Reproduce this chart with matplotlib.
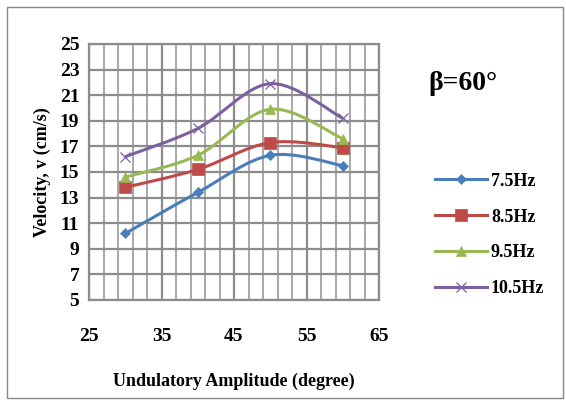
import numpy as np
import matplotlib
matplotlib.use("Agg")
import matplotlib.pyplot as plt
from matplotlib.path import Path
from matplotlib.patches import PathPatch, Rectangle
from matplotlib.lines import Line2D

amplitude = [30, 40, 50, 60]
v_75 = [10.2, 13.4, 16.3, 15.5]
v_85 = [13.8, 15.2, 17.3, 16.9]
v_95 = [14.6, 16.3, 19.9, 17.6]
v_105 = [16.2, 18.4, 21.9, 19.2]
labels = ["7.5Hz", "8.5Hz", "9.5Hz", "10.5Hz"]
colors = ["#4A7EBB", "#BE4B48", "#98B954", "#7D60A0"]
markers = ["D", "s", "^", "x"]
msizes = [5, 8, 7, 7]

plt.rcParams['font.family'] = ['Liberation Serif', 'DejaVu Serif']
plt.rcParams['font.weight'] = 'bold'

fig = plt.figure(figsize=(5.66, 4.0), dpi=100)
fig.patches.append(Rectangle((7/566, 2/400), 556/566, 391/400, transform=fig.transFigure,
                             fill=False, edgecolor="#888888", linewidth=1.0))
ax = fig.add_axes([89/566, 100/400, 290/566, 256/400])

def smooth_path(xs, ys, t=1/6):
    pts = np.column_stack([xs, ys]).astype(float)
    n = len(pts)
    verts = [tuple(pts[0])]
    codes = [Path.MOVETO]
    for i in range(n - 1):
        p0 = pts[i - 1] if i > 0 else pts[i]
        p1 = pts[i]
        p2 = pts[i + 1]
        p3 = pts[i + 2] if i + 2 < n else pts[i + 1]
        c1 = p1 + (p2 - p0) * t
        c2 = p2 - (p3 - p1) * t
        verts += [tuple(c1), tuple(c2), tuple(p2)]
        codes += [Path.CURVE4] * 3
    return Path(verts, codes)

series = [v_75, v_85, v_95, v_105]
for ys, lab, c, m, ms in zip(series, labels, colors, markers, msizes):
    ax.add_patch(PathPatch(smooth_path(amplitude, ys), fill=False, edgecolor=c, linewidth=2.2, zorder=3))
    ax.plot(amplitude, ys, linestyle="none", marker=m, color=c, markersize=ms,
            markeredgewidth=0.9 if m == "x" else 0.5, zorder=4)

ax.set_xlim(25, 65)
ax.set_ylim(5, 25)
ax.set_xticks(np.arange(25, 66, 10))
ax.set_xticks(np.arange(25, 66, 2), minor=True)
ax.set_yticks(np.arange(5, 26, 2))
ax.grid(True, which="major", axis="both", color="#8c8c8c", linewidth=1.6)
ax.grid(True, which="minor", axis="x", color="#a8a8a8", linewidth=1.4)
ax.set_axisbelow(True)
for s in ax.spines.values():
    s.set_color("#8c8c8c")
    s.set_linewidth(1.6)
ax.tick_params(axis="both", which="both", length=0, labelsize=14)
ax.tick_params(axis="x", pad=20)
ax.tick_params(axis="y", pad=7)
for t in ax.get_xticklabels() + ax.get_yticklabels():
    t.set_fontweight("bold")

ax.set_xlabel("Undulatory Amplitude (degree)", fontsize=13, fontweight="bold", labelpad=20)
ax.set_ylabel("Velocity, v (cm/s)", fontsize=13, fontweight="bold", labelpad=6)

fig.text(463/566, 1 - 84/400, "β=60°", fontsize=20, fontweight="bold", ha="center", va="center")

handles = [Line2D([0], [0], color=c, marker=m, markersize=ms, linewidth=2.2,
                  markeredgewidth=0.9 if m == "x" else 0.5)
           for c, m, ms in zip(colors, markers, msizes)]
fig.legend(handles, labels, loc="center left", bbox_to_anchor=(435/566, 1 - 235/400),
           frameon=False, fontsize=13, labelspacing=1.05, handlelength=2.9, handletextpad=0.2,
           borderpad=0, borderaxespad=0)

fig.savefig("out.png", dpi=100)
